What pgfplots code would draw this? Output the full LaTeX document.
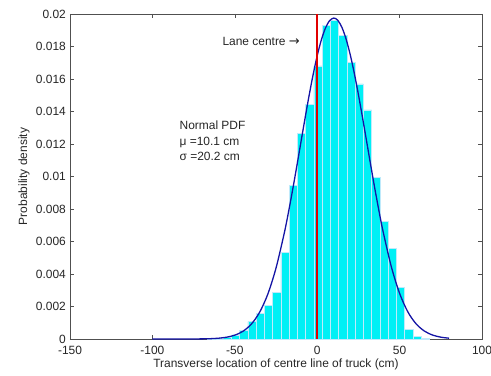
\documentclass[border=0pt]{standalone}
\usepackage{fontspec}
\setmainfont{Liberation Sans}
\newfontfamily\dejavu{DejaVu Sans}
\usepackage{pgfplots}
\pgfplotsset{compat=1.18}
\definecolor{curveblue}{RGB}{20,20,165}
\definecolor{axgray}{RGB}{80,80,80}
\definecolor{barcyan}{RGB}{0,240,245}
\definecolor{lanered}{RGB}{225,0,0}
\begin{document}
\fontsize{12}{14}\selectfont
\begin{tikzpicture}
\begin{axis}[
  scale only axis, width=412bp, height=325bp,
  xmin=-150, xmax=100, ymin=0, ymax=0.02,
  xtick={-150,-100,-50,0,50,100},
  ytick={0,0.002,0.004,0.006,0.008,0.01,0.012,0.014,0.016,0.018,0.02},
  tick align=inside, tick pos=both,
  major tick length=4bp,
  axis line style={axgray}, tick style={axgray, line width=0.5pt},
  scaled y ticks=false,
  yticklabel style={/pgf/number format/.cd, fixed, precision=3, assume math mode=true},
  xticklabel style={/pgf/number format/assume math mode=true, yshift=-2.5bp},
  tick label style={font=\fontsize{12}{14}\selectfont, text=black!85},
  label style={font=\fontsize{12}{14}\selectfont, text=black!85},
  xlabel={Transverse location of centre line of truck (cm)},
  ylabel={Probability density},
  xlabel style={yshift=3bp},
  ylabel style={yshift=-2bp},
]
\coordinate (ll) at (rel axis cs:0,0);
\coordinate (ur) at (rel axis cs:1,1);
\addplot[ybar interval, fill=barcyan, draw=white!75!cyan, line width=0.5pt] coordinates {
(-67,0.00003) (-62,0.00006) (-57,0.00012) (-52,0.00025) (-47,0.00055) (-42,0.00107)
(-37,0.00158) (-32,0.00209) (-27,0.00286) (-22,0.00532) (-17,0.00945) (-12,0.01266)
(-7,0.01446) (-2,0.0168) (3,0.0193) (8,0.0196) (13,0.0187) (18,0.0170) (23,0.0157)
(28,0.0141) (33,0.00995) (38,0.00726) (43,0.00558) (48,0.00316) (53,0.0006)
(58,0.00014) (63,0.00005) (68,0)
};
\addplot[color=curveblue, line width=1.3pt, smooth, mark=none] coordinates {
(-100,0.0000003) (-90,0.000001) (-80,0.000001) (-70,0.0000076) (-65,0.0000197)
(-60,0.000048) (-55,0.00011) (-50,0.000236) (-45,0.000479) (-40,0.000912)
(-35,0.001634) (-30,0.002753) (-25,0.004364) (-20,0.006508) (-17.5,0.007766)
(-15,0.009127) (-12.5,0.010563) (-10,0.012038) (-7.5,0.013511) (-5,0.014935)
(-2.5,0.016258) (0,0.01743) (2.5,0.018401) (5,0.01913) (7.5,0.019587) (10.1,0.01975)
(12.5,0.019611) (15,0.019177) (17.5,0.018468) (20,0.017514) (22.5,0.016359)
(25,0.015047) (27.5,0.013628) (30,0.012156) (32.5,0.010679) (35,0.009239)
(37.5,0.00787) (40,0.006604) (45,0.00444) (50,0.002808) (55,0.00167) (60,0.000934)
(65,0.000492) (70,0.000243) (75,0.000113) (80,0.0000496)
};
\addplot[color=lanered, draw=lanered, line width=1.5pt, mark=none, sharp plot] coordinates {(0,0) (0,0.02)};
\node[anchor=east, font=\fontsize{12}{14}\selectfont, text=black!85] at (axis cs:-8,0.0183) {Lane centre {\dejavu\fontsize{13}{14}\selectfont →}};
\node[anchor=west, align=left, font=\fontsize{12}{16}\selectfont, text=black!85] at (axis cs:-86,0.0122) {Normal PDF\\μ =10.1 cm\\σ =20.2 cm};
\end{axis}
\pgfresetboundingbox
\path ([shift={(-70bp,-37bp)}]ll) rectangle ([shift={(9bp,14bp)}]ur);
\end{tikzpicture}
\end{document}
